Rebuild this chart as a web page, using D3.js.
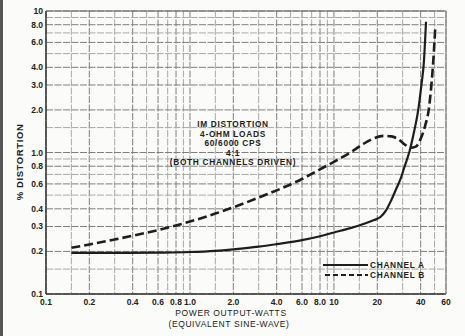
<!DOCTYPE html>
<html>
<head>
<meta charset="utf-8">
<script src="https://cdn.jsdelivr.net/npm/d3@7"></script>
<style>
  body { margin: 0; background: #fbfbfa; }
  svg { display: block; font-family: "Liberation Sans", "DejaVu Sans", sans-serif; }
  .tick-label { font-size: 8.5px; font-weight: bold; fill: #222; }
  .title { font-size: 8.5px; fill: #222; letter-spacing: 0.6px; }
  .note { font-size: 8.3px; font-weight: bold; fill: #222; letter-spacing: 0.7px; }
</style>
</head>
<body>
<div id="chart"></div>
<script>
// IM distortion vs power output, log-log, two channels

const xTicks = [0.1, 0.2, 0.4, 0.6, 0.8, 1, 2, 4, 6, 8, 10, 20, 40, 60];
const xTickLabels = ["0.1", "0.2", "0.4", "0.6", "0.8", "1.0", "2.0", "4.0", "6.0", "8.0", "10", "20", "40", "60"];
const yTicks = [0.1, 0.2, 0.3, 0.4, 0.6, 0.8, 1, 2, 3, 4, 6, 8, 10];
const yTickLabels = ["0.1", "0.2", "0.3", "0.4", "0.6", "0.8", "1.0", "2.0", "3.0", "4.0", "6.0", "8.0", "10"];
const gridSteps = [1, 1.5, 2, 3, 4, 5, 6, 7, 8, 9];

const powerA = [0.15, 0.3, 0.6, 1.0, 1.5, 2.0, 3.0, 4.0, 6.0, 8.0, 10, 13, 16, 19, 21, 23, 25, 27, 29, 31, 33.5, 36, 38.5, 40.5, 42, 43.6];
const distA = [0.195, 0.195, 0.196, 0.198, 0.202, 0.207, 0.216, 0.225, 0.24, 0.256, 0.272, 0.292, 0.312, 0.333, 0.35, 0.39, 0.46, 0.55, 0.65, 0.8, 1.02, 1.4, 2.0, 3.0, 4.2, 8.4];

const powerB = [0.15, 0.2, 0.3, 0.4, 0.6, 1.0, 1.5, 2.0, 3.0, 4.0, 6.0, 8.0, 10, 13, 16, 19, 22, 25, 28, 31, 34, 37, 40, 43, 45.5, 47.5, 49, 50.5];
const distB = [0.212, 0.224, 0.243, 0.258, 0.283, 0.325, 0.37, 0.41, 0.48, 0.54, 0.65, 0.76, 0.86, 1.0, 1.15, 1.26, 1.31, 1.30, 1.24, 1.14, 1.08, 1.10, 1.25, 1.55, 2.0, 3.0, 4.5, 7.5];

const noteLines = ["IM DISTORTION", "4-OHM LOADS", "60/6000 CPS", "4:1", "(BOTH CHANNELS DRIVEN)"];

const width = 465, height = 336;
const margin = { top: 11, right: 19, bottom: 42, left: 46 };

const svg = d3.select("#chart").append("svg")
  .attr("width", width)
  .attr("height", height);

// scan border on the left edge
svg.append("rect").attr("x", 0).attr("y", 0).attr("width", 3).attr("height", height).attr("fill", "#555");

const x = d3.scaleLog().domain([0.1, 60]).range([margin.left, width - margin.right]);
const y = d3.scaleLog().domain([0.1, 10]).range([height - margin.bottom, margin.top]);

// graph paper grid
const xGrid = [];
[0.1, 1, 10].forEach(d => gridSteps.forEach(s => { const v = d * s; if (v <= 60) xGrid.push(v); }));
const yGrid = [];
[0.1, 1].forEach(d => gridSteps.forEach(s => yGrid.push(d * s)));
yGrid.push(10);

const grid = svg.append("g");
grid.selectAll(".vx").data(xGrid).enter().append("line")
  .attr("x1", d => x(d)).attr("x2", d => x(d))
  .attr("y1", y(10)).attr("y2", y(0.1))
  .attr("stroke", d => xTicks.includes(+d.toPrecision(3)) ? "#7f7f7f" : "#a9a9a9")
  .attr("stroke-width", 1)
  .attr("stroke-dasharray", "7,1.5");
grid.selectAll(".hy").data(yGrid).enter().append("line")
  .attr("x1", x(0.1)).attr("x2", x(60))
  .attr("y1", d => y(d)).attr("y2", d => y(d))
  .attr("stroke", d => yTicks.includes(+d.toPrecision(3)) ? "#7f7f7f" : "#a9a9a9")
  .attr("stroke-width", 1)
  .attr("stroke-dasharray", "7,1.5");

// frame
svg.append("line").attr("x1", x(0.1)).attr("x2", x(0.1)).attr("y1", y(10)).attr("y2", y(0.1))
  .attr("stroke", "#333").attr("stroke-width", 1.5);
svg.append("line").attr("x1", x(0.1)).attr("x2", x(60)).attr("y1", y(0.1)).attr("y2", y(0.1))
  .attr("stroke", "#333").attr("stroke-width", 1.5);
svg.append("line").attr("x1", x(0.1)).attr("x2", x(60)).attr("y1", y(10)).attr("y2", y(10))
  .attr("stroke", "#666").attr("stroke-width", 1.2);
svg.append("line").attr("x1", x(60)).attr("x2", x(60)).attr("y1", y(10)).attr("y2", y(0.1))
  .attr("stroke", "#888").attr("stroke-width", 1.2);

// tick labels
svg.selectAll(".xl").data(xTicks).enter().append("text")
  .attr("class", "tick-label")
  .attr("x", d => x(d))
  .attr("y", y(0.1) + 11)
  .attr("text-anchor", "middle")
  .text((d, i) => xTickLabels[i]);

svg.selectAll(".yl").data(yTicks).enter().append("text")
  .attr("class", "tick-label")
  .attr("x", x(0.1) - 3)
  .attr("y", d => y(d) + 3)
  .attr("text-anchor", "end")
  .text((d, i) => yTickLabels[i]);

// axis titles
svg.append("text").attr("class", "title")
  .attr("transform", "translate(23,162) rotate(-90)")
  .attr("text-anchor", "middle")
  .style("font-weight", "bold")
  .style("font-size", "9.5px")
  .text("% DISTORTION");

svg.append("text").attr("class", "title")
  .attr("x", 231).attr("y", 316)
  .attr("text-anchor", "middle")
  .text("POWER OUTPUT-WATTS");
svg.append("text").attr("class", "title")
  .attr("x", 229).attr("y", 327)
  .attr("text-anchor", "middle")
  .text("(EQUIVALENT SINE-WAVE)");

// annotation
svg.selectAll(".note").data(noteLines).enter().append("text")
  .attr("class", "note")
  .attr("x", 233)
  .attr("y", (d, i) => 127 + i * 9.5)
  .attr("text-anchor", "middle")
  .text(d => d);

// curves
const line = d3.line()
  .x(d => x(d[0]))
  .y(d => y(d[1]))
  .curve(d3.curveMonotoneX);

svg.append("path")
  .datum(d3.zip(powerA, distA))
  .attr("fill", "none")
  .attr("stroke", "#1e1e1e")
  .attr("stroke-width", 2.2)
  .attr("d", line);

svg.append("path")
  .datum(d3.zip(powerB, distB))
  .attr("fill", "none")
  .attr("stroke", "#1e1e1e")
  .attr("stroke-width", 2.6)
  .attr("stroke-dasharray", "9,4")
  .attr("d", line);

// legend
const legend = svg.append("g").attr("transform", "translate(323,265)");
legend.append("line").attr("x1", 0).attr("x2", 45).attr("y1", 0).attr("y2", 0)
  .attr("stroke", "#1e1e1e").attr("stroke-width", 1.8);
legend.append("text").attr("class", "note").attr("x", 47).attr("y", 3).text("CHANNEL A");
legend.append("line").attr("x1", 2).attr("x2", 45).attr("y1", 10).attr("y2", 10)
  .attr("stroke", "#1e1e1e").attr("stroke-width", 1.8).attr("stroke-dasharray", "5,3");
legend.append("text").attr("class", "note").attr("x", 47).attr("y", 13).text("CHANNEL B");
</script>
</body>
</html>
